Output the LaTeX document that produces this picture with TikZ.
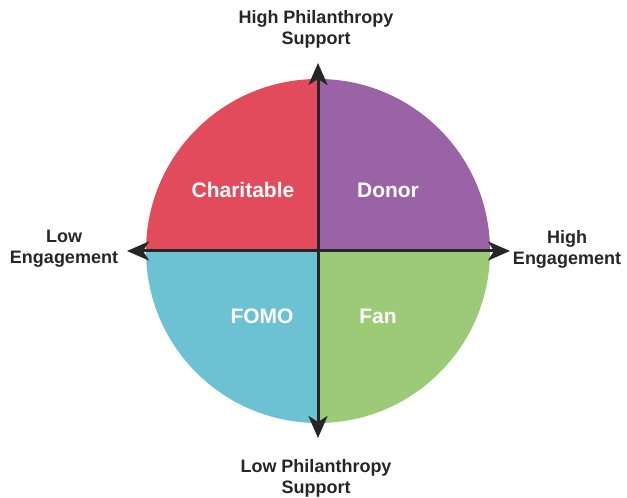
\documentclass[tikz,border=0pt]{standalone}
\usepackage{fontspec}
\setmainfont{Liberation Sans}
\usetikzlibrary{arrows.meta}

\definecolor{charitablered}{HTML}{E24B5B}
\definecolor{donorpurple}{HTML}{9A63A6}
\definecolor{fomoblue}{HTML}{6CC2D2}
\definecolor{fangreen}{HTML}{9CCA77}

\begin{document}
\begin{tikzpicture}[x=1pt, y=1pt]
    \tikzstyle{axislabel} = [text=black!85, text centered, align=center, font=\bfseries\fontsize{18}{21}\selectfont]
    \tikzstyle{quadlabel} = [text=white, font=\bfseries\fontsize{21}{24}\selectfont]
    \tikzstyle{axis} = [line width=3pt, draw=black!85, {Stealth[length=22pt,width=19pt,inset=6pt]}-{Stealth[length=22pt,width=19pt,inset=6pt]}]

    \useasboundingbox (0,0) rectangle (627,498);

    % quadrants of the circle
    \coordinate (centre) at (318,247);
    \fill[charitablered] (centre) -- ++(-172,0) arc (180:90:172) -- cycle;
    \fill[donorpurple] (centre) -- ++(0,172) arc (90:0:172) -- cycle;
    \fill[fangreen] (centre) -- ++(172,0) arc (0:-90:172) -- cycle;
    \fill[fomoblue] (centre) -- ++(0,-172) arc (270:180:172) -- cycle;

    \node [quadlabel] (charitable) at (243,308) {Charitable};
    \node [quadlabel] (donor) at (388,308) {Donor};
    \node [quadlabel] (fomo) at (262,182) {FOMO};
    \node [quadlabel] (fan) at (378,182) {Fan};

    % axes
    \coordinate (uptip) at (318,435);
    \coordinate (downtip) at (318,60);
    \coordinate (lefttip) at (127,247);
    \coordinate (righttip) at (510,247);
    \draw [axis] (downtip) -- (uptip);
    \draw [axis] (lefttip) -- (righttip);

    \node [axislabel] (highsupport) at (316,469) {High Philanthropy\\Support};
    \node [axislabel] (lowsupport) at (316,20) {Low Philanthropy\\Support};
    \node [axislabel] (lowengage) at (64,249) {Low\\Engagement};
    \node [axislabel] (highengage) at (567,249) {High\\Engagement};
\end{tikzpicture}
\end{document}
